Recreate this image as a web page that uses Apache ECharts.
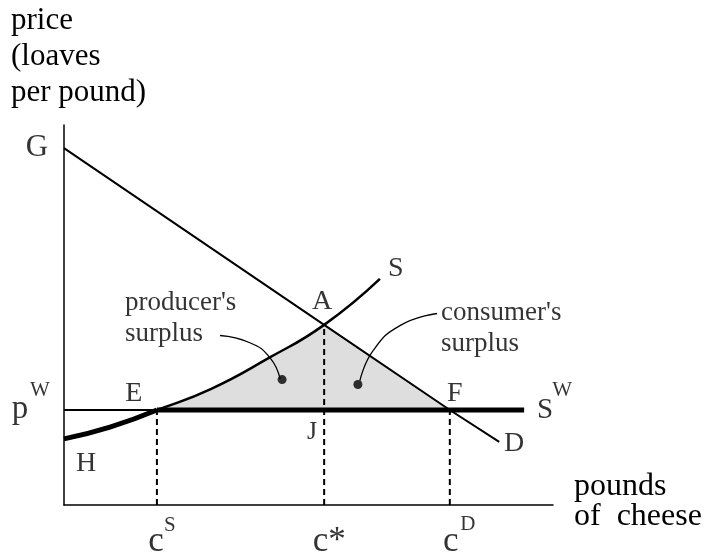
<!DOCTYPE html>
<html>
<head>
<meta charset="utf-8">
<script src="https://cdn.jsdelivr.net/npm/echarts@6/dist/echarts.min.js"></script>
<style>
html,body{margin:0;padding:0;background:#fff}
#main{width:710px;height:555px}
</style>
</head>
<body>
<div id="main"></div>
<script>
// demand line G -> A -> F -> D
var demandX=[0,5.32,7.89,8.90]
var demandY=[9.39,4.74,2.50,1.66]
// supply curve H -> E -> A -> S
var supplyX=[0,0.94,1.90,3.0,4.19,5.32,6.46]
var supplyY=[1.74,2.05,2.50,3.05,3.87,4.74,5.95]
var worldPrice=2.50   // p^W
var worldEnd=9.41     // end of S^W line
var qS=1.90,qStar=5.32,qD=7.89
// leader lines from labels to dots
var prodLeadX=[3.19,3.80,4.21,4.42],prodLeadY=[4.46,4.27,3.88,3.32]
var consLeadX=[7.63,6.87,6.32,6.05],consLeadY=[5.04,4.72,4.06,3.27]
var dotX=[4.46,6.01],dotY=[3.30,3.17]

function pts(xs,ys,a,b){
	var r=[]
	for(var i=(a||0);i<(b==null?xs.length:b);i++){r.push([xs[i],ys[i]])}
	return r
}
var serif='"Liberation Serif","DejaVu Serif",serif'
function lab(x,y,txt,off,size){
	return {value:[x,y],label:{formatter:txt,offset:off,fontSize:size||28}}
}

var mychart=echarts.init(document.getElementById('main'));
var thin={color:'#000',width:2}
var option={
	animation:false,
	grid:{left:64,right:157,top:125,bottom:50},
	xAxis:{type:'value',min:0,max:10,
		axisLine:{onZero:false,lineStyle:{color:'#000',width:1.5}},
		axisTick:{show:false},axisLabel:{show:false},splitLine:{show:false}},
	yAxis:{type:'value',min:0,max:10,
		axisLine:{show:true,onZero:false,lineStyle:{color:'#000',width:1.5}},
		axisTick:{show:false},axisLabel:{show:false},splitLine:{show:false}},
	graphic:[
		{type:'text',left:11,top:3,style:{text:'price\n(loaves\nper pound)',font:'31px '+serif,lineHeight:36,fill:'#000'}},
		{type:'text',left:574,top:471,style:{text:'pounds\nof  cheese',font:'32px '+serif,lineHeight:30,fill:'#000'}}
	],
	series:[
		// shaded surplus area
		{type:'line',data:pts(supplyX,supplyY,2,6),smooth:true,symbol:'none',
			lineStyle:{width:0},areaStyle:{color:'#dedede',opacity:1,origin:worldPrice},z:1},
		{type:'line',data:[[qStar,demandY[1]],[qD,demandY[2]]],symbol:'none',
			lineStyle:{width:0},areaStyle:{color:'#dedede',opacity:1,origin:worldPrice},z:1},
		// dashed drop lines
		{type:'line',data:[[qS,0],[qS,worldPrice]],symbol:'none',lineStyle:{color:'#000',width:2,type:[6,4]},z:2},
		{type:'line',data:[[qStar,0],[qStar,demandY[1]]],symbol:'none',lineStyle:{color:'#000',width:2,type:[6,4]},z:2},
		{type:'line',data:[[qD,0],[qD,worldPrice]],symbol:'none',lineStyle:{color:'#000',width:2,type:[6,4]},z:2},
		// demand
		{type:'line',data:pts(demandX,demandY),symbol:'none',lineStyle:thin,z:3},
		// supply
		{type:'line',data:pts(supplyX,supplyY),smooth:true,symbol:'none',lineStyle:{color:'#000',width:2.5},z:3},
		{type:'line',data:pts(supplyX,supplyY,0,3),smooth:true,symbol:'none',lineStyle:{color:'#000',width:5},z:4},
		// world supply
		{type:'line',data:[[0,worldPrice],[qS,worldPrice]],symbol:'none',lineStyle:thin,z:3},
		{type:'line',data:[[qS,worldPrice],[worldEnd,worldPrice]],symbol:'none',lineStyle:{color:'#000',width:5},z:4},
		// leaders
		{type:'line',data:pts(prodLeadX,prodLeadY),smooth:true,symbol:'none',lineStyle:{color:'#000',width:1.3},z:3},
		{type:'line',data:pts(consLeadX,consLeadY),smooth:true,symbol:'none',lineStyle:{color:'#000',width:1.3},z:3},
		{type:'scatter',data:pts(dotX,dotY),symbolSize:9,itemStyle:{color:'#000'},z:5},
		// text labels
		{type:'scatter',symbolSize:0,clip:false,silent:true,z:6,
			label:{show:true,position:'inside',color:'#000',fontFamily:serif,fontSize:28},
			data:[
				lab(0,demandY[0],'G',[-27,0],31),
				lab(qStar,demandY[1],'A',[-2,-23]),
				lab(supplyX[6],supplyY[6],'S',[16,-10]),
				lab(qS,worldPrice,'E',[-23,-16]),
				lab(qD,worldPrice,'F',[5,-16]),
				lab(qStar,worldPrice,'J',[-12,22],26),
				lab(supplyX[0],supplyY[0],'H',[22,25]),
				lab(demandX[3],demandY[3],'D',[15,2]),
				lab(worldEnd,worldPrice,'S',[21,0],29),
				lab(worldEnd,worldPrice,'W',[38,-20],21),
				lab(0,worldPrice,'p',[-44,-1],33),
				lab(0,worldPrice,'W',[-24,-20],21),
				lab(qS,0,'c',[-1,37],35),
				lab(qS,0,'S',[13,20],21),
				lab(qStar,0,'c*',[5,37],35),
				lab(qD,0,'c',[1,37],35),
				lab(qD,0,'D',[18,19],21),
				{value:[prodLeadX[0],prodLeadY[0]],label:{formatter:"producer's\nsurplus",align:'left',offset:[-95,-17],fontSize:27,lineHeight:31}},
				{value:[consLeadX[0],consLeadY[0]],label:{formatter:"consumer's\nsurplus",align:'left',offset:[4,15],fontSize:27,lineHeight:31}}
			]}
	]
};
mychart.setOption(option);
</script>
</body>
</html>
